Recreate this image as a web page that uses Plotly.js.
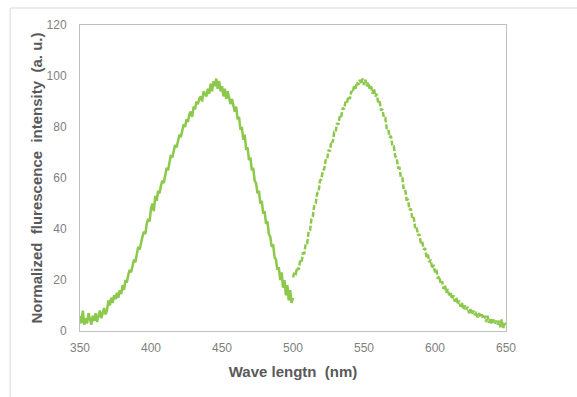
<!DOCTYPE html>
<html>
<head>
<meta charset="utf-8">
<script src="https://cdn.plot.ly/plotly-3.0.1.min.js"></script>
<style>html,body{margin:0;padding:0;background:#fff;}#chart{width:577px;height:397px;}</style>
</head>
<body>
<div id="chart"></div>
<script>
// Series 1: solid line, 350–500 nm at 1 nm steps
const blueStart = 350;
const blueIntensity = [
  6, 3, 8, 2.5, 5, 3, 7, 4, 2.5, 6,
  4, 7, 3.5, 6, 8, 5, 7, 9, 6.5, 8,
  12, 10, 13, 11, 14, 12.5, 15, 13, 16, 14.5,
  18, 16, 20, 19, 22, 24, 23, 26, 28, 27,
  31, 33, 32, 35, 37, 39, 38, 42, 44, 43,
  48, 50, 47, 53, 51, 55, 54, 57, 59, 58,
  62, 64, 63, 67, 69, 68, 71, 73, 72, 75,
  77, 76, 79, 81, 80, 83, 82, 85, 86, 84,
  88, 87, 90, 89, 91, 92, 90, 94, 93, 92,
  95, 93, 97, 94, 98, 96, 99, 95, 98, 94,
  96, 92, 95, 91, 94, 92, 89, 91, 88, 86,
  88, 83, 84, 79, 80, 75, 77, 71, 72, 67,
  68, 63, 64, 59, 58, 54, 55, 50, 51, 46,
  47, 42, 43, 38, 37, 33, 34, 29, 28, 24,
  25, 20, 23, 17, 20, 14, 18, 12, 16, 11,
  13
];
// Series 2: dashed line, 500–650 nm at 1 nm steps
const greenStart = 500;
const greenIntensity = [
  21, 23, 22.5, 25, 24, 27.5, 27, 30.5, 30.5, 34.5,
  34.5, 39, 39.5, 44, 45, 49.5, 50, 54, 54.5, 59,
  59.5, 63, 63.5, 67, 67, 71, 70.5, 74.5, 74, 78,
  78, 81.5, 81, 84.5, 84, 87.5, 87, 90, 89.5, 92,
  91, 94, 93.5, 96, 95, 97.5, 96.5, 98.5, 97, 99,
  96.5, 98.5, 96, 97.5, 95, 96, 93, 95, 92, 93,
  89.5, 90, 86.5, 87, 83.5, 83.5, 79.5, 79.5, 76, 76.5,
  72.5, 72.5, 68.5, 68, 64, 64, 60, 60, 55.5, 55.5,
  51.5, 51.5, 47.5, 48, 44, 44.5, 40.5, 41, 37.5, 38,
  34.5, 35, 32, 32.5, 29, 30, 27, 28, 24.5, 26,
  23, 24, 20.5, 21.5, 18.5, 19.5, 16.5, 18, 15, 16.5,
  14, 15, 12.5, 14, 11.5, 13, 10.5, 12, 9.5, 11,
  8.5, 10, 8.5, 9.5, 7, 8.6, 6.5, 8, 6.2, 7.5,
  5.3, 7, 5.5, 6.5, 4.8, 6, 3.5, 6, 3.2, 5,
  2.7, 4.5, 3, 4, 2.5, 4, 1.5, 4.5, 1, 3.5,
  2.4
];
const xTickVals = [350, 400, 450, 500, 550, 600, 650];
const yTickVals = [0, 20, 40, 60, 80, 100, 120];
const xTitle = 'Wave lengtn  (nm)';
const yTitle = 'Normalized  flurescence  intensity  (a. u.)';

const wl1 = blueIntensity.map((_, i) => blueStart + i);
const wl2 = greenIntensity.map((_, i) => greenStart + i);
const lineColor = '#8cc84b';

const traces = [
  {x: wl1, y: blueIntensity, type: 'scatter', mode: 'lines',
   line: {color: lineColor, width: 2.5}, hoverinfo: 'skip'},
  {x: wl2, y: greenIntensity, type: 'scatter', mode: 'lines',
   line: {color: lineColor, width: 2.5, dash: '5px,2px'}, hoverinfo: 'skip'}
];

const tickFont = {family: 'Liberation Sans, Arial, sans-serif', size: 12, color: '#7f7f7f'};
const titleFont = {family: 'Liberation Sans, Arial, sans-serif', size: 15, color: '#595959', weight: 'bold'};

const layout = {
  width: 577, height: 397,
  margin: {l: 80, r: 71, t: 25, b: 66},
  paper_bgcolor: '#ffffff', plot_bgcolor: '#ffffff',
  showlegend: false,
  xaxis: {
    range: [350, 650], tickvals: xTickVals, ticktext: xTickVals.map(String),
    showgrid: false, zeroline: false, ticks: '',
    showline: true, mirror: true, linecolor: '#bfbfbf', linewidth: 1,
    tickfont: tickFont, ticklabelstandoff: 6,
    title: {text: xTitle, font: titleFont, standoff: 12}
  },
  yaxis: {
    range: [0, 120], tickvals: yTickVals, ticktext: yTickVals.map(String),
    showgrid: false, zeroline: false, ticks: '',
    showline: true, mirror: true, linecolor: '#bfbfbf', linewidth: 1,
    tickfont: tickFont, ticklabelstandoff: 10,
    title: {text: yTitle, font: titleFont, standoff: 0}
  },
  shapes: [{
    type: 'rect', xref: 'paper', yref: 'paper',
    x0: -0.164, x1: 1.2, y0: -0.26, y1: 1.0556,
    line: {color: '#d9d9d9', width: 1}, fillcolor: 'rgba(0,0,0,0)', layer: 'below'
  }]
};

Plotly.newPlot('chart', traces, layout, {displayModeBar: false, staticPlot: true});
</script>
</body>
</html>
